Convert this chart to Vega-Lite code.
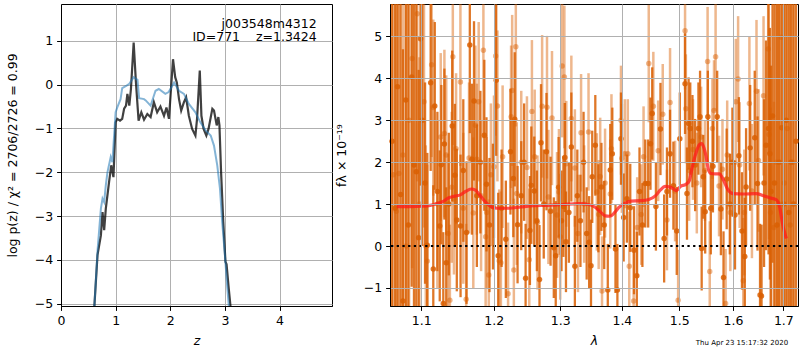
{
  "$schema": "https://vega.github.io/schema/vega-lite/v6.json",
  "padding": {"top": 2, "left": 5, "right": 1, "bottom": 0},
  "spacing": 58,
  "bounds": "flush",
  "config": {
    "font": "DejaVu Sans",
    "view": {"stroke": "#000", "strokeWidth": 1},
    "axis": {"grid": true, "gridColor": "#b0b0b0", "gridWidth": 1, "domainColor": "#000", "domainWidth": 1, "tickColor": "#000", "tickSize": 4.4, "tickWidth": 1, "labelPadding": 4, "labelFontSize": 12.5, "labelColor": "#000", "titleFontSize": 12.5, "titleFontWeight": "normal", "titleColor": "#000", "titlePadding": 8, "labelFlush": false, "labelOverlap": false},
    "axisY": {"titlePadding": 15}
  },
  "datasets": {
    "pz": [
      {"z":0.60,"lp":-5.4,"s":"dark"},{"z":0.61,"lp":-5.07,"s":"dark"},{"z":0.668,"lp":-3.89,"s":"dark"},{"z":0.73,"lp":-3.44,"s":"dark"},{"z":0.76,"lp":-2.91,"s":"dark"},{"z":0.79,"lp":-3.32,"s":"dark"},{"z":0.82,"lp":-2.83,"s":"dark"},{"z":0.88,"lp":-2.22,"s":"dark"},{"z":0.92,"lp":-1.84,"s":"dark"},{"z":0.96,"lp":-2.11,"s":"dark"},{"z":1.00,"lp":-0.86,"s":"dark"},{"z":1.03,"lp":-0.78,"s":"dark"},{"z":1.08,"lp":-0.82,"s":"dark"},{"z":1.12,"lp":-0.78,"s":"dark"},{"z":1.155,"lp":-0.55,"s":"dark"},{"z":1.19,"lp":-0.48,"s":"dark"},{"z":1.215,"lp":-0.21,"s":"dark"},{"z":1.25,"lp":-0.48,"s":"dark"},{"z":1.28,"lp":-0.10,"s":"dark"},{"z":1.33,"lp":0.96,"s":"dark"},{"z":1.37,"lp":0.08,"s":"dark"},{"z":1.42,"lp":-0.82,"s":"dark"},{"z":1.47,"lp":-0.63,"s":"dark"},{"z":1.52,"lp":-0.80,"s":"dark"},{"z":1.58,"lp":-0.67,"s":"dark"},{"z":1.64,"lp":-0.74,"s":"dark"},{"z":1.70,"lp":-0.40,"s":"dark"},{"z":1.76,"lp":-0.63,"s":"dark"},{"z":1.82,"lp":-0.50,"s":"dark"},{"z":1.885,"lp":-0.71,"s":"dark"},{"z":1.93,"lp":-0.52,"s":"dark"},{"z":1.976,"lp":-0.78,"s":"dark"},{"z":2.05,"lp":0.58,"s":"dark"},{"z":2.09,"lp":0.17,"s":"dark"},{"z":2.12,"lp":0.05,"s":"dark"},{"z":2.16,"lp":-0.33,"s":"dark"},{"z":2.20,"lp":-0.59,"s":"dark"},{"z":2.25,"lp":-0.40,"s":"dark"},{"z":2.29,"lp":-0.29,"s":"dark"},{"z":2.34,"lp":-0.71,"s":"dark"},{"z":2.40,"lp":-1.01,"s":"dark"},{"z":2.46,"lp":-1.16,"s":"dark"},{"z":2.49,"lp":-0.78,"s":"dark"},{"z":2.54,"lp":0.32,"s":"dark"},{"z":2.57,"lp":-0.71,"s":"dark"},{"z":2.61,"lp":-1.01,"s":"dark"},{"z":2.66,"lp":-1.16,"s":"dark"},{"z":2.70,"lp":-1.01,"s":"dark"},{"z":2.77,"lp":-0.55,"s":"dark"},{"z":2.80,"lp":-0.59,"s":"dark"},{"z":2.85,"lp":-0.93,"s":"dark"},{"z":2.88,"lp":-0.74,"s":"dark"},{"z":2.90,"lp":-0.93,"s":"dark"},{"z":2.93,"lp":-2.0,"s":"dark"},{"z":2.97,"lp":-3.13,"s":"dark"},{"z":3.01,"lp":-4.04,"s":"dark"},{"z":3.03,"lp":-4.10,"s":"dark"},{"z":3.07,"lp":-4.65,"s":"dark"},{"z":3.10,"lp":-5.03,"s":"dark"},{"z":3.12,"lp":-5.4,"s":"dark"},
      {"z":0.60,"lp":-5.4,"s":"blue"},{"z":0.61,"lp":-5.07,"s":"blue"},{"z":0.67,"lp":-3.77,"s":"blue"},{"z":0.73,"lp":-2.83,"s":"blue"},{"z":0.76,"lp":-2.60,"s":"blue"},{"z":0.79,"lp":-2.68,"s":"blue"},{"z":0.82,"lp":-2.30,"s":"blue"},{"z":0.85,"lp":-2.00,"s":"blue"},{"z":0.91,"lp":-1.65,"s":"blue"},{"z":0.94,"lp":-1.77,"s":"blue"},{"z":1.00,"lp":-0.63,"s":"blue"},{"z":1.03,"lp":-0.52,"s":"blue"},{"z":1.09,"lp":-0.33,"s":"blue"},{"z":1.12,"lp":-0.08,"s":"blue"},{"z":1.20,"lp":-0.02,"s":"blue"},{"z":1.25,"lp":0.02,"s":"blue"},{"z":1.33,"lp":0.17,"s":"blue"},{"z":1.40,"lp":0.11,"s":"blue"},{"z":1.43,"lp":-0.31,"s":"blue"},{"z":1.52,"lp":-0.33,"s":"blue"},{"z":1.55,"lp":-0.36,"s":"blue"},{"z":1.64,"lp":-0.48,"s":"blue"},{"z":1.73,"lp":-0.14,"s":"blue"},{"z":1.79,"lp":-0.10,"s":"blue"},{"z":1.91,"lp":-0.21,"s":"blue"},{"z":1.97,"lp":-0.17,"s":"blue"},{"z":2.04,"lp":-0.02,"s":"blue"},{"z":2.07,"lp":0.05,"s":"blue"},{"z":2.16,"lp":-0.14,"s":"blue"},{"z":2.25,"lp":-0.21,"s":"blue"},{"z":2.34,"lp":-0.44,"s":"blue"},{"z":2.46,"lp":-0.63,"s":"blue"},{"z":2.55,"lp":-0.86,"s":"blue"},{"z":2.65,"lp":-1.05,"s":"blue"},{"z":2.74,"lp":-1.16,"s":"blue"},{"z":2.80,"lp":-1.39,"s":"blue"},{"z":2.86,"lp":-1.84,"s":"blue"},{"z":2.91,"lp":-2.38,"s":"blue"},{"z":2.95,"lp":-3.13,"s":"blue"},{"z":3.00,"lp":-3.89,"s":"blue"},{"z":3.04,"lp":-4.57,"s":"blue"},{"z":3.07,"lp":-5.03,"s":"blue"},{"z":3.09,"lp":-5.4,"s":"blue"}
    ],
    "ann": [{"z":4.68,"lp":1.30,"t":"j003548m4312"},{"z":4.68,"lp":0.985,"t":"ID=771\u00a0\u00a0\u00a0\u00a0z=1.3424"}],
    "dk": [
      {"lam":1.062,"f":2.5,"e":6},{"lam":1.066,"f":0.9,"e":6},{"lam":1.069,"f":3.8,"e":6},{"lam":1.073,"f":1.23,"e":6},{"lam":1.076,"f":-1.31,"e":6},{"lam":1.0797,"f":3.48,"e":6},{"lam":1.083,"f":0.5,"e":6},{"lam":1.0874,"f":4.03,"e":5},{"lam":1.0904,"f":1.93,"e":5},{"lam":1.0934,"f":1.77,"e":4},{"lam":1.0965,"f":0.2,"e":4},{"lam":1.099,"f":4.94,"e":3.5},{"lam":1.1013,"f":3.0,"e":3},{"lam":1.105,"f":1.5,"e":2.4},{"lam":1.108,"f":0.02,"e":2.2},{"lam":1.1125,"f":3.89,"e":2.1},{"lam":1.116,"f":-0.55,"e":2.0},{"lam":1.118,"f":3.34,"e":2.0},{"lam":1.1215,"f":1.3,"e":1.9},{"lam":1.1247,"f":0.48,"e":1.8},{"lam":1.1268,"f":1.94,"e":1.9},{"lam":1.1295,"f":-1.37,"e":1.7},{"lam":1.131,"f":2.43,"e":1.8},{"lam":1.1335,"f":-0.4,"e":1.8},{"lam":1.137,"f":1.0,"e":1.7},{"lam":1.1417,"f":2.86,"e":1.8},{"lam":1.1453,"f":1.69,"e":1.7},{"lam":1.148,"f":0.62,"e":1.7},{"lam":1.1532,"f":0.48,"e":1.7},{"lam":1.157,"f":1.8,"e":1.7},{"lam":1.1615,"f":0.32,"e":1.7},{"lam":1.1661,"f":4.79,"e":2.1},{"lam":1.169,"f":2.07,"e":1.8},{"lam":1.172,"f":3.46,"e":1.9},{"lam":1.176,"f":1.2,"e":1.7},{"lam":1.181,"f":2.0,"e":1.7},{"lam":1.1866,"f":2.64,"e":1.8},{"lam":1.1897,"f":1.47,"e":1.6},{"lam":1.194,"f":0.5,"e":1.6},{"lam":1.199,"f":0.94,"e":1.5},{"lam":1.2037,"f":3.95,"e":1.8},{"lam":1.2066,"f":-0.23,"e":1.5},{"lam":1.2115,"f":0.9,"e":1.4},{"lam":1.2177,"f":0.16,"e":1.4},{"lam":1.2245,"f":2.25,"e":1.5},{"lam":1.2287,"f":1.61,"e":1.4},{"lam":1.2308,"f":3.02,"e":1.6},{"lam":1.235,"f":0.51,"e":1.4},{"lam":1.2405,"f":1.2,"e":1.3},{"lam":1.2448,"f":2.0,"e":1.4},{"lam":1.247,"f":-0.77,"e":1.3},{"lam":1.2535,"f":0.37,"e":1.3},{"lam":1.2556,"f":1.45,"e":1.4},{"lam":1.26,"f":1.31,"e":1.3},{"lam":1.264,"f":0.6,"e":1.2},{"lam":1.268,"f":-0.8,"e":1.3},{"lam":1.2703,"f":2.46,"e":1.4},{"lam":1.2745,"f":1.0,"e":1.3},{"lam":1.2787,"f":2.25,"e":1.4},{"lam":1.285,"f":0.83,"e":1.3},{"lam":1.29,"f":-0.04,"e":1.2},{"lam":1.293,"f":-0.23,"e":1.3},{"lam":1.2975,"f":1.4,"e":1.2},{"lam":1.302,"f":0.6,"e":1.2},{"lam":1.305,"f":0.94,"e":1.2},{"lam":1.3072,"f":2.11,"e":1.3},{"lam":1.309,"f":0.1,"e":1.2},{"lam":1.3136,"f":0.8,"e":1.2},{"lam":1.3175,"f":2.36,"e":1.3},{"lam":1.3231,"f":-0.48,"e":1.2},{"lam":1.327,"f":1.2,"e":1.1},{"lam":1.332,"f":0.6,"e":1.1},{"lam":1.337,"f":2.0,"e":1.2},{"lam":1.342,"f":0.3,"e":1.1},{"lam":1.346,"f":0.09,"e":1.1},{"lam":1.349,"f":-0.47,"e":1.1},{"lam":1.351,"f":1.65,"e":1.1},{"lam":1.356,"f":2.4,"e":1.2},{"lam":1.361,"f":0.9,"e":1.05},{"lam":1.366,"f":1.41,"e":1.05},{"lam":1.3706,"f":0.5,"e":1.05},{"lam":1.3765,"f":-1.05,"e":1.1},{"lam":1.3806,"f":1.81,"e":1.1},{"lam":1.384,"f":2.2,"e":1.1},{"lam":1.3893,"f":-0.07,"e":1.05},{"lam":1.3925,"f":-1.05,"e":1.1},{"lam":1.3985,"f":2.56,"e":1.1},{"lam":1.403,"f":0.68,"e":1.05},{"lam":1.4085,"f":1.13,"e":1.05},{"lam":1.4142,"f":0.91,"e":1.05},{"lam":1.4206,"f":-0.1,"e":1.05},{"lam":1.4254,"f":-0.71,"e":1.05},{"lam":1.43,"f":1.3,"e":1.05},{"lam":1.435,"f":0.5,"e":1.0},{"lam":1.44,"f":1.49,"e":1.05},{"lam":1.445,"f":1.49,"e":1.05},{"lam":1.449,"f":2.44,"e":1.1},{"lam":1.452,"f":3.16,"e":1.1},{"lam":1.4585,"f":0.94,"e":1.05},{"lam":1.4665,"f":2.79,"e":1.1},{"lam":1.473,"f":0.18,"e":1.05},{"lam":1.478,"f":1.3,"e":1.05},{"lam":1.4835,"f":2.2,"e":1.05},{"lam":1.4895,"f":1.44,"e":1.05},{"lam":1.4955,"f":0.36,"e":1.05},{"lam":1.501,"f":2.56,"e":1.1},{"lam":1.5105,"f":3.87,"e":1.2},{"lam":1.514,"f":1.25,"e":1.1},{"lam":1.517,"f":2.92,"e":1.1},{"lam":1.52,"f":2.8,"e":1.1},{"lam":1.524,"f":2.5,"e":1.1},{"lam":1.529,"f":1.93,"e":1.1},{"lam":1.535,"f":2.8,"e":1.1},{"lam":1.538,"f":3.08,"e":1.1},{"lam":1.541,"f":-0.06,"e":1.0},{"lam":1.544,"f":1.65,"e":1.0},{"lam":1.5475,"f":0.82,"e":1.0},{"lam":1.5525,"f":3.08,"e":1.1},{"lam":1.558,"f":0.9,"e":1.1},{"lam":1.562,"f":1.9,"e":1.1},{"lam":1.57,"f":3.08,"e":1.1},{"lam":1.577,"f":0.88,"e":1.1},{"lam":1.582,"f":-0.75,"e":1.1},{"lam":1.588,"f":1.6,"e":1.2},{"lam":1.594,"f":1.0,"e":1.2},{"lam":1.599,"f":2.0,"e":1.3},{"lam":1.604,"f":0.74,"e":1.3},{"lam":1.6115,"f":2.15,"e":1.4},{"lam":1.6175,"f":0.36,"e":1.4},{"lam":1.623,"f":-0.25,"e":1.4},{"lam":1.6255,"f":1.41,"e":1.4},{"lam":1.6335,"f":2.34,"e":1.5},{"lam":1.6425,"f":2.58,"e":1.6},{"lam":1.648,"f":1.49,"e":1.6},{"lam":1.653,"f":-1.17,"e":1.7},{"lam":1.656,"f":-1.19,"e":1.7},{"lam":1.661,"f":1.5,"e":2.0},{"lam":1.665,"f":2.4,"e":2.5},{"lam":1.67,"f":2.8,"e":3},{"lam":1.6727,"f":2.2,"e":3},{"lam":1.675,"f":1.3,"e":3},{"lam":1.678,"f":3.1,"e":3.5},{"lam":1.682,"f":1.5,"e":5},{"lam":1.687,"f":0.5,"e":6},{"lam":1.6915,"f":2.0,"e":6},{"lam":1.6966,"f":2.82,"e":6},{"lam":1.701,"f":1.0,"e":6},{"lam":1.706,"f":3.0,"e":6},{"lam":1.711,"f":0.8,"e":6},{"lam":1.716,"f":2.0,"e":6},{"lam":1.721,"f":1.0,"e":6},{"lam":1.726,"f":2.5,"e":6}
    ],
    "lt": [
      {"lam":1.0635,"f":1.7,"e":6},{"lam":1.0675,"f":0.83,"e":6},{"lam":1.0708,"f":1.73,"e":6},{"lam":1.076,"f":2.17,"e":6},{"lam":1.08,"f":0.0,"e":6},{"lam":1.084,"f":3.0,"e":6},{"lam":1.088,"f":4.47,"e":5},{"lam":1.0947,"f":5.54,"e":4},{"lam":1.0975,"f":1.0,"e":3.5},{"lam":1.1036,"f":3.44,"e":3},{"lam":1.106,"f":0.0,"e":2.4},{"lam":1.108,"f":-0.36,"e":2.3},{"lam":1.1138,"f":4.32,"e":2.2},{"lam":1.116,"f":3.3,"e":2.1},{"lam":1.1215,"f":1.0,"e":2.0},{"lam":1.126,"f":2.6,"e":2.0},{"lam":1.131,"f":2.68,"e":2.0},{"lam":1.1335,"f":2.17,"e":1.9},{"lam":1.136,"f":0.3,"e":1.9},{"lam":1.1385,"f":-1.29,"e":1.8},{"lam":1.141,"f":1.4,"e":1.8},{"lam":1.1425,"f":4.51,"e":2.1},{"lam":1.144,"f":1.12,"e":1.8},{"lam":1.147,"f":2.32,"e":1.8},{"lam":1.153,"f":3.91,"e":2.0},{"lam":1.157,"f":0.9,"e":1.8},{"lam":1.161,"f":-1.27,"e":1.8},{"lam":1.165,"f":2.1,"e":1.8},{"lam":1.171,"f":0.79,"e":1.8},{"lam":1.174,"f":2.88,"e":1.9},{"lam":1.176,"f":2.07,"e":1.8},{"lam":1.1786,"f":3.44,"e":1.9},{"lam":1.182,"f":1.2,"e":1.8},{"lam":1.1853,"f":4.67,"e":2.1},{"lam":1.1885,"f":0.22,"e":1.8},{"lam":1.19,"f":0.8,"e":1.8},{"lam":1.193,"f":-0.69,"e":1.8},{"lam":1.196,"f":1.7,"e":1.7},{"lam":1.2005,"f":1.89,"e":1.7},{"lam":1.2029,"f":4.53,"e":1.9},{"lam":1.2055,"f":3.34,"e":1.8},{"lam":1.208,"f":-0.35,"e":1.7},{"lam":1.2105,"f":-0.4,"e":1.7},{"lam":1.213,"f":2.13,"e":1.7},{"lam":1.221,"f":-1.14,"e":1.7},{"lam":1.2254,"f":3.08,"e":1.7},{"lam":1.227,"f":3.71,"e":1.8},{"lam":1.2295,"f":-0.57,"e":1.7},{"lam":1.2324,"f":4.75,"e":1.9},{"lam":1.2338,"f":1.25,"e":1.7},{"lam":1.2405,"f":2.0,"e":1.7},{"lam":1.249,"f":1.87,"e":1.7},{"lam":1.2525,"f":-0.33,"e":1.7},{"lam":1.2565,"f":3.21,"e":1.7},{"lam":1.2607,"f":2.13,"e":1.6},{"lam":1.265,"f":0.56,"e":1.6},{"lam":1.272,"f":3.33,"e":1.7},{"lam":1.2795,"f":3.31,"e":1.7},{"lam":1.2817,"f":1.17,"e":1.6},{"lam":1.2872,"f":3.05,"e":1.6},{"lam":1.295,"f":0.74,"e":1.5},{"lam":1.298,"f":1.29,"e":1.5},{"lam":1.3,"f":0.22,"e":1.5},{"lam":1.303,"f":4.29,"e":1.7},{"lam":1.3065,"f":4.03,"e":1.7},{"lam":1.3095,"f":1.96,"e":1.5},{"lam":1.3175,"f":3.04,"e":1.5},{"lam":1.3231,"f":1.86,"e":1.4},{"lam":1.328,"f":0.3,"e":1.4},{"lam":1.333,"f":2.7,"e":1.4},{"lam":1.338,"f":1.0,"e":1.4},{"lam":1.345,"f":2.72,"e":1.4},{"lam":1.3585,"f":1.29,"e":1.4},{"lam":1.3615,"f":0.75,"e":1.3},{"lam":1.364,"f":1.66,"e":1.4},{"lam":1.367,"f":-1.07,"e":1.3},{"lam":1.372,"f":1.5,"e":1.3},{"lam":1.3806,"f":1.24,"e":1.3},{"lam":1.3826,"f":2.32,"e":1.3},{"lam":1.3985,"f":3.0,"e":1.3},{"lam":1.4,"f":2.09,"e":1.3},{"lam":1.405,"f":2.2,"e":1.3},{"lam":1.41,"f":2.2,"e":1.3},{"lam":1.4125,"f":-0.48,"e":1.3},{"lam":1.42,"f":-1.31,"e":1.3},{"lam":1.426,"f":0.44,"e":1.2},{"lam":1.433,"f":0.75,"e":1.2},{"lam":1.437,"f":2.13,"e":1.2},{"lam":1.446,"f":4.35,"e":1.4},{"lam":1.454,"f":3.33,"e":1.3},{"lam":1.4625,"f":2.27,"e":1.2},{"lam":1.4705,"f":3.14,"e":1.2},{"lam":1.478,"f":0.62,"e":1.2},{"lam":1.4835,"f":3.42,"e":1.3},{"lam":1.4925,"f":1.31,"e":1.2},{"lam":1.498,"f":-1.29,"e":1.2},{"lam":1.5105,"f":5.13,"e":1.4},{"lam":1.512,"f":3.27,"e":1.3},{"lam":1.518,"f":1.8,"e":1.2},{"lam":1.525,"f":2.3,"e":1.2},{"lam":1.532,"f":1.5,"e":1.2},{"lam":1.54,"f":2.6,"e":1.2},{"lam":1.547,"f":1.8,"e":1.2},{"lam":1.552,"f":4.4,"e":1.3},{"lam":1.556,"f":-0.61,"e":1.2},{"lam":1.561,"f":2.8,"e":1.2},{"lam":1.564,"f":3.23,"e":1.2},{"lam":1.567,"f":4.51,"e":1.3},{"lam":1.5735,"f":1.43,"e":1.2},{"lam":1.58,"f":1.83,"e":1.2},{"lam":1.586,"f":-1.37,"e":1.3},{"lam":1.589,"f":2.17,"e":1.3},{"lam":1.595,"f":0.8,"e":1.4},{"lam":1.6055,"f":3.44,"e":1.5},{"lam":1.61,"f":3.98,"e":1.5},{"lam":1.613,"f":1.93,"e":1.5},{"lam":1.62,"f":-0.83,"e":1.5},{"lam":1.622,"f":0.8,"e":1.5},{"lam":1.632,"f":3.4,"e":1.6},{"lam":1.637,"f":1.31,"e":1.6},{"lam":1.646,"f":3.69,"e":1.7},{"lam":1.65,"f":2.04,"e":1.7},{"lam":1.66,"f":3.58,"e":1.9},{"lam":1.6693,"f":4.7,"e":2.5},{"lam":1.671,"f":2.66,"e":2.5},{"lam":1.674,"f":0.8,"e":2.5},{"lam":1.6807,"f":0.44,"e":3},{"lam":1.686,"f":2.0,"e":4},{"lam":1.691,"f":1.0,"e":5},{"lam":1.696,"f":4.98,"e":6},{"lam":1.702,"f":1.5,"e":6},{"lam":1.708,"f":2.8,"e":6},{"lam":1.714,"f":0.5,"e":6},{"lam":1.72,"f":2.0,"e":6}
    ],
    "mod": [
      {"lam":1.068,"f":0.94},{"lam":1.085,"f":0.94},{"lam":1.101,"f":0.95},{"lam":1.112,"f":0.97},{"lam":1.119,"f":1.0},{"lam":1.13,"f":1.07},{"lam":1.137,"f":1.15},{"lam":1.145,"f":1.19},{"lam":1.153,"f":1.22},{"lam":1.16,"f":1.3},{"lam":1.168,"f":1.36},{"lam":1.174,"f":1.33},{"lam":1.18,"f":1.22},{"lam":1.188,"f":1.05},{"lam":1.196,"f":0.94},{"lam":1.205,"f":0.9},{"lam":1.222,"f":0.9},{"lam":1.24,"f":0.93},{"lam":1.26,"f":0.96},{"lam":1.28,"f":0.97},{"lam":1.303,"f":0.99},{"lam":1.33,"f":1.01},{"lam":1.345,"f":0.99},{"lam":1.355,"f":0.93},{"lam":1.364,"f":0.82},{"lam":1.372,"f":0.72},{"lam":1.38,"f":0.71},{"lam":1.388,"f":0.8},{"lam":1.395,"f":0.92},{"lam":1.404,"f":1.01},{"lam":1.415,"f":1.07},{"lam":1.432,"f":1.08},{"lam":1.446,"f":1.11},{"lam":1.458,"f":1.2},{"lam":1.466,"f":1.33},{"lam":1.475,"f":1.42},{"lam":1.482,"f":1.41},{"lam":1.49,"f":1.36},{"lam":1.495,"f":1.32},{"lam":1.502,"f":1.42},{"lam":1.512,"f":1.47},{"lam":1.518,"f":1.55},{"lam":1.524,"f":1.9},{"lam":1.53,"f":2.2},{"lam":1.537,"f":2.42},{"lam":1.541,"f":2.44},{"lam":1.545,"f":2.35},{"lam":1.549,"f":2.15},{"lam":1.553,"f":1.85},{"lam":1.558,"f":1.73},{"lam":1.566,"f":1.72},{"lam":1.574,"f":1.72},{"lam":1.582,"f":1.57},{"lam":1.59,"f":1.35},{"lam":1.6,"f":1.25},{"lam":1.62,"f":1.24},{"lam":1.645,"f":1.25},{"lam":1.66,"f":1.2},{"lam":1.672,"f":1.15},{"lam":1.686,"f":1.1},{"lam":1.693,"f":0.9},{"lam":1.698,"f":0.55},{"lam":1.703,"f":0.3},{"lam":1.706,"f":0.18}
    ]
  },
  "hconcat": [
    {
      "width": 271,
      "height": 302,
      "layer": [
        {
          "data": {"name": "pz"},
          "transform": [{"filter": "datum.s == 'dark'"}],
          "mark": {"type": "line", "color": "#000000", "opacity": 0.75, "strokeWidth": 2.2, "clip": true},
          "encoding": {
            "x": {"field": "z", "type": "quantitative", "scale": {"domain": [0, 4.96], "nice": false}, "axis": {"values": [0, 1, 2, 3, 4], "title": "z", "titleFontStyle": "italic"}},
            "y": {"field": "lp", "type": "quantitative", "scale": {"domain": [-5.05, 1.84], "nice": false, "zero": false}, "axis": {"values": [-5, -4, -3, -2, -1, 0, 1], "title": "log p(z) / χ² = 2706/2726 = 0.99"}}
          }
        },
        {
          "data": {"name": "pz"},
          "transform": [{"filter": "datum.s == 'blue'"}],
          "mark": {"type": "line", "color": "#1f77b4", "opacity": 0.55, "strokeWidth": 2, "clip": true},
          "encoding": {
            "x": {"field": "z", "type": "quantitative", "scale": {"domain": [0, 4.96], "nice": false}, "axis": {"values": [0, 1, 2, 3, 4], "title": "z", "titleFontStyle": "italic"}},
            "y": {"field": "lp", "type": "quantitative", "scale": {"domain": [-5.05, 1.84], "nice": false, "zero": false}, "axis": {"values": [-5, -4, -3, -2, -1, 0, 1], "title": "log p(z) / χ² = 2706/2726 = 0.99"}}
          }
        },
        {
          "data": {"name": "ann"},
          "mark": {"type": "text", "align": "right", "baseline": "alphabetic", "fontSize": 12.5, "color": "#000"},
          "encoding": {
            "x": {"field": "z", "type": "quantitative"},
            "y": {"field": "lp", "type": "quantitative"},
            "text": {"field": "t"}
          }
        }
      ]
    },
    {
      "width": 408,
      "height": 302,
      "title": {"text": "Thu Apr 23 15:17:32 2020", "orient": "bottom", "anchor": "end", "fontSize": 7, "fontWeight": "normal", "color": "#000", "offset": -8, "dx": -11},
      "layer": [
        {
          "data": {"name": "lt"},
          "mark": {"type": "errorbar", "color": "#d95f02", "opacity": 0.45, "thickness": 2.5},
          "encoding": {
            "x": {"field": "lam", "type": "quantitative", "scale": {"type": "log", "domain": [1.0594, 1.7302], "nice": false}, "axis": {"values": [1.1, 1.2, 1.3, 1.4, 1.5, 1.6, 1.7], "format": ".1f", "title": "λ", "titleFontStyle": "italic", "zindex": 1}},
            "y": {"field": "f", "type": "quantitative", "scale": {"domain": [-1.43, 5.77], "nice": false, "zero": false, "clamp": true}, "axis": {"values": [-1, 0, 1, 2, 3, 4, 5], "title": "fλ × 10⁻¹⁹", "zindex": 1, "gridColor": {"condition": {"test": "datum.value === 0", "value": "transparent"}, "value": "#b0b0b0"}}},
            "yError": {"field": "e"}
          }
        },
        {
          "data": {"name": "lt"},
          "mark": {"type": "point", "filled": true, "size": 30, "color": "#d95f02", "opacity": 0.45},
          "encoding": {
            "x": {"field": "lam", "type": "quantitative", "scale": {"type": "log", "domain": [1.0594, 1.7302], "nice": false}, "axis": {"values": [1.1, 1.2, 1.3, 1.4, 1.5, 1.6, 1.7], "format": ".1f", "title": "λ", "titleFontStyle": "italic", "zindex": 1}},
            "y": {"field": "f", "type": "quantitative", "scale": {"domain": [-1.43, 5.77], "nice": false, "zero": false, "clamp": true}, "axis": {"values": [-1, 0, 1, 2, 3, 4, 5], "title": "fλ × 10⁻¹⁹", "zindex": 1, "gridColor": {"condition": {"test": "datum.value === 0", "value": "transparent"}, "value": "#b0b0b0"}}}
          }
        },
        {
          "data": {"name": "dk"},
          "mark": {"type": "errorbar", "color": "#d95f02", "opacity": 0.85, "thickness": 2.3},
          "encoding": {
            "x": {"field": "lam", "type": "quantitative", "scale": {"type": "log", "domain": [1.0594, 1.7302], "nice": false}, "axis": {"values": [1.1, 1.2, 1.3, 1.4, 1.5, 1.6, 1.7], "format": ".1f", "title": "λ", "titleFontStyle": "italic", "zindex": 1}},
            "y": {"field": "f", "type": "quantitative", "scale": {"domain": [-1.43, 5.77], "nice": false, "zero": false, "clamp": true}, "axis": {"values": [-1, 0, 1, 2, 3, 4, 5], "title": "fλ × 10⁻¹⁹", "zindex": 1, "gridColor": {"condition": {"test": "datum.value === 0", "value": "transparent"}, "value": "#b0b0b0"}}},
            "yError": {"field": "e"}
          }
        },
        {
          "data": {"name": "dk"},
          "mark": {"type": "point", "filled": true, "size": 30, "color": "#d95f02", "opacity": 0.85},
          "encoding": {
            "x": {"field": "lam", "type": "quantitative", "scale": {"type": "log", "domain": [1.0594, 1.7302], "nice": false}, "axis": {"values": [1.1, 1.2, 1.3, 1.4, 1.5, 1.6, 1.7], "format": ".1f", "title": "λ", "titleFontStyle": "italic", "zindex": 1}},
            "y": {"field": "f", "type": "quantitative", "scale": {"domain": [-1.43, 5.77], "nice": false, "zero": false, "clamp": true}, "axis": {"values": [-1, 0, 1, 2, 3, 4, 5], "title": "fλ × 10⁻¹⁹", "zindex": 1, "gridColor": {"condition": {"test": "datum.value === 0", "value": "transparent"}, "value": "#b0b0b0"}}}
          }
        },
        {
          "data": {"values": [{"y0": 0}]},
          "mark": {"type": "rule", "color": "#000", "strokeWidth": 2.2, "strokeDash": [2.3, 3.4]},
          "encoding": {
            "y": {"field": "y0", "type": "quantitative", "scale": {"domain": [-1.43, 5.77], "nice": false, "zero": false, "clamp": true}, "axis": {"values": [-1, 0, 1, 2, 3, 4, 5], "title": "fλ × 10⁻¹⁹", "zindex": 1, "gridColor": {"condition": {"test": "datum.value === 0", "value": "transparent"}, "value": "#b0b0b0"}}}
          }
        },
        {
          "data": {"name": "mod"},
          "mark": {"type": "line", "color": "#ff1a1a", "opacity": 0.75, "strokeWidth": 3.2, "interpolate": "monotone"},
          "encoding": {
            "x": {"field": "lam", "type": "quantitative", "scale": {"type": "log", "domain": [1.0594, 1.7302], "nice": false}, "axis": {"values": [1.1, 1.2, 1.3, 1.4, 1.5, 1.6, 1.7], "format": ".1f", "title": "λ", "titleFontStyle": "italic", "zindex": 1}},
            "y": {"field": "f", "type": "quantitative", "scale": {"domain": [-1.43, 5.77], "nice": false, "zero": false, "clamp": true}, "axis": {"values": [-1, 0, 1, 2, 3, 4, 5], "title": "fλ × 10⁻¹⁹", "zindex": 1, "gridColor": {"condition": {"test": "datum.value === 0", "value": "transparent"}, "value": "#b0b0b0"}}}
          }
        }
      ]
    }
  ]
}
